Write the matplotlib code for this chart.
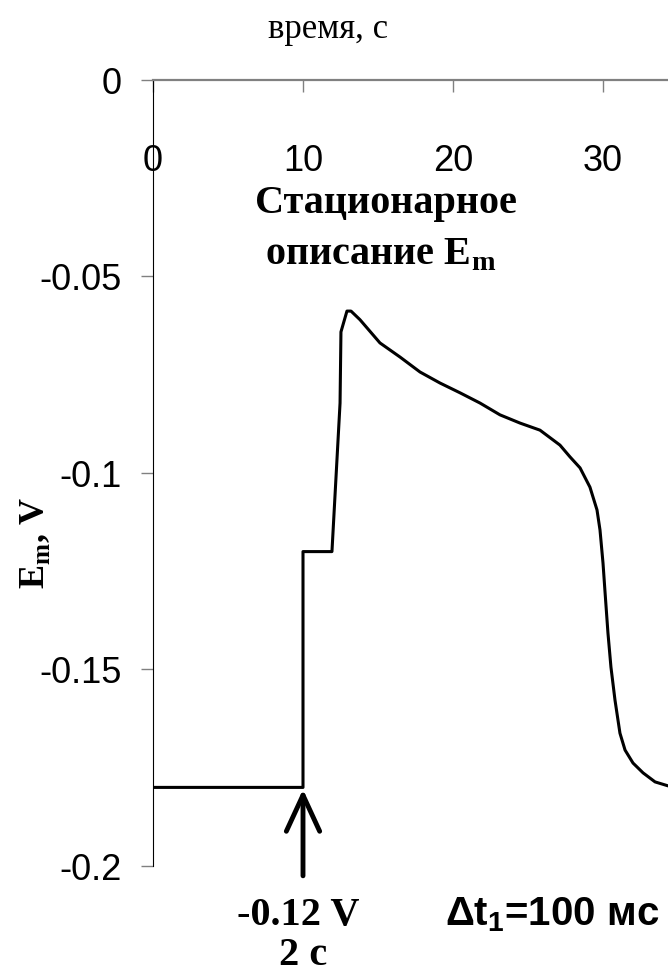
import matplotlib
matplotlib.use("Agg")
from matplotlib import pyplot as plt

plt.rcParams["mathtext.fontset"] = "custom"
plt.rcParams["mathtext.bf"] = "Liberation Serif:bold"
plt.rcParams["mathtext.sf"] = "Liberation Sans:bold"

# время, с
t = [0, 10, 10, 11.93, 12.47, 12.53, 12.93, 13.2, 13.8, 15.13, 16.47, 17.8,
     19.13, 20.47, 21.8, 23.13, 24.47, 25.8, 27.13, 27.8, 28.47, 29.13, 29.6,
     29.8, 30.0, 30.13, 30.33, 30.53, 30.8, 31.13, 31.47, 32.0, 32.67, 33.47,
     34.33, 35.5]
# Em, V
em = [-0.18, -0.18, -0.12, -0.12, -0.0822, -0.0641, -0.0588, -0.0588, -0.061,
      -0.0669, -0.0705, -0.0743, -0.0771, -0.0796, -0.0822, -0.0852, -0.0873,
      -0.0891, -0.0929, -0.0959, -0.0987, -0.1036, -0.1094, -0.1145, -0.1229,
      -0.1300, -0.1407, -0.1494, -0.1578, -0.1662, -0.1705, -0.1738, -0.1763,
      -0.1786, -0.1796, -0.18]

xticks = [0, 10, 20, 30]
yticks = [0, -0.05, -0.1, -0.15, -0.2]
ytick_labels = ["0", "-0.05", "-0.1", "-0.15", "-0.2"]

W, H = 668, 972
fig = plt.figure(figsize=(W / 100, H / 100), dpi=100)
# the original is cropped on the right, so the axes end at the figure edge
ax = fig.add_axes([153 / W, 1 - 866 / H, (W - 153) / W, (866 - 80) / H])

ax.plot(t, em, color="black", lw=2.2)

ax.set_xlim(0, (W - 153) / 15)
ax.set_ylim(-0.2, 0)

for s in ["bottom", "right"]:
    ax.spines[s].set_visible(False)
ax.spines["top"].set_color("#808080")
ax.spines["top"].set_linewidth(1.6)
ax.spines["left"].set_color("black")
ax.spines["left"].set_linewidth(0.8)

ax.set_xticks(xticks)
ax.set_xticklabels([str(x) for x in xticks])
ax.tick_params(axis="x", top=True, bottom=False, labeltop=True, labelbottom=False,
               direction="in", length=8.5, width=1, color="#808080", pad=-71,
               labelsize=26)
for lab in ax.get_xticklabels():
    lab.set_fontfamily("Liberation Sans")

ax.set_yticks(yticks)
ax.set_yticklabels(ytick_labels)
ax.tick_params(axis="y", direction="out", length=8.5, width=1, color="#808080",
               pad=14, labelsize=26)
for lab in ax.get_yticklabels():
    lab.set_fontfamily("Liberation Sans")

fig.text(328 / W, 1 - 30 / H, "время, с", family="Liberation Serif",
         fontsize=25, ha="center", va="center")

fig.text(35 / W, 1 - 543 / H, r"E$_\mathbf{m}$, V", family="Liberation Serif",
         fontsize=26, fontweight="bold", rotation=90, ha="center", va="center")

ax.text(15.5, -0.0315, "Стационарное", family="Liberation Serif", fontsize=29,
        fontweight="bold", ha="center", va="center")
ax.text(15.2, -0.0445, r"описание E$_\mathbf{m}$", family="Liberation Serif",
        fontsize=29, fontweight="bold", ha="center", va="center")

ax.annotate("", xy=(10, -0.1805), xytext=(10, -0.2025), annotation_clip=False,
            arrowprops=dict(arrowstyle="->,head_length=2.6,head_width=1.2",
                            lw=3.5, color="black", shrinkA=0, shrinkB=0))

fig.text(298 / W, 1 - 915 / H, "-0.12 V", family="Liberation Serif",
         fontsize=29, fontweight="bold", ha="center", va="center")
fig.text(303 / W, 1 - 955 / H, "2 с", family="Liberation Serif",
         fontsize=29, fontweight="bold", ha="center", va="center")
fig.text(552 / W, 1 - 915 / H, r"Δt$_\mathsf{1}$=100 мс", family="Liberation Sans",
         fontsize=29, fontweight="bold", ha="center", va="center")

fig.savefig("out.png", dpi=100)
